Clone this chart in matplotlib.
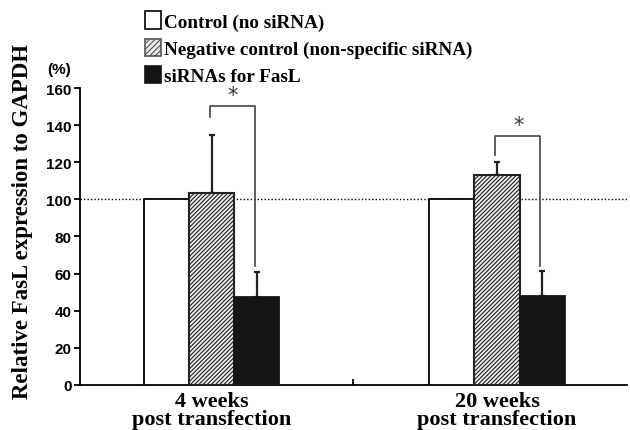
import matplotlib
matplotlib.use("Agg")
import matplotlib.pyplot as plt
from matplotlib.patches import Patch
import numpy as np

# data
groups = ["4 weeks\npost transfection", "20 weeks\npost transfection"]
series = ["Control (no siRNA)", "Negative control (non-specific siRNA)", "siRNAs for FasL"]
control = [100, 100]
negative = [103.5, 113]
sirna = [47.5, 48]
negative_err = [31.5, 7]
sirna_err = [13.5, 13.5]
yticks = [0, 20, 40, 60, 80, 100, 120, 140, 160]

serif = {"family": "Liberation Serif", "weight": "bold"}
plt.rcParams["hatch.color"] = "#959595"
plt.rcParams["hatch.linewidth"] = 0.8

fig = plt.figure(figsize=(6.3, 4.31), dpi=100)
ax = fig.add_axes([0.127, 0.105, 0.868, 0.688])

centers = np.array([0.481, 1.525])
w = 0.165

ax.bar(centers - w, control, w, facecolor="white", edgecolor="black", linewidth=1.3, zorder=3)
ax.bar(centers, negative, w, facecolor="#ececec", edgecolor="#222222", hatch="////////",
       linewidth=1.5, zorder=3)
ax.bar(centers + w, sirna, w, facecolor="#151515", edgecolor="#151515", linewidth=1.3, zorder=3)

# upward-only error bars
ax.errorbar(centers, negative, yerr=[np.zeros(2), negative_err], fmt="none",
            ecolor="#222222", elinewidth=1.6, capsize=2.5, capthick=1.6, zorder=2)
ax.errorbar(centers + w, sirna, yerr=[np.zeros(2), sirna_err], fmt="none",
            ecolor="#222222", elinewidth=1.6, capsize=2.5, capthick=1.6, zorder=2)

# significance brackets
brackets = [(150.5, 144.5, 64.3), (134, 124, 64.3)]
for c, (top, left, right) in zip(centers, brackets):
    ax.plot([c - 0.007, c - 0.007, c + w - 0.007, c + w - 0.007], [left, top, top, right],
            color="#444444", lw=1.2, zorder=2)
    ax.text(c + w / 2 - 0.005, top + 6, "*", ha="center", va="center",
            fontsize=15, color="#333333", family="DejaVu Sans")

ax.axhline(100, color="black", lw=1.0, ls=(0, (1, 1.5)), zorder=1)

ax.set_xlim(0, 2)
ax.set_ylim(0, 160)
ax.set_yticks(yticks)
ax.set_yticklabels([str(v) for v in yticks], family="Liberation Sans", weight="bold", fontsize=11)
ax.tick_params(axis="y", direction="out", length=4, width=1.3, pad=2)
ax.set_xticks([1])
ax.set_xticklabels([""])
ax.tick_params(axis="x", direction="in", length=4, width=1.3)
for c, g in zip(centers, groups):
    ax.text(c, -3.5, g, ha="center", va="top", fontdict=serif, fontsize=16, linespacing=0.85)

ax.spines["top"].set_visible(False)
ax.spines["right"].set_visible(False)
ax.spines["left"].set_linewidth(1.3)
ax.spines["bottom"].set_linewidth(1.3)

ax.set_ylabel("Relative FasL expression to GAPDH", fontdict=serif, fontsize=16.5)
ax.yaxis.set_label_coords(-0.086, 0.553)
ax.text(-0.038, 1.04, "(%)", transform=ax.transAxes, ha="center", va="bottom",
        family="Liberation Sans", weight="bold", fontsize=11)

handles = [
    Patch(facecolor="white", edgecolor="black", linewidth=1.2),
    Patch(facecolor="#ececec", edgecolor="#555555", hatch="//////", linewidth=1.2),
    Patch(facecolor="#151515", edgecolor="#151515", linewidth=1.2),
]
fig.legend(handles, series, loc="upper left", bbox_to_anchor=(0.21, 1.0), frameon=False,
           prop={"family": "Liberation Serif", "weight": "bold", "size": 13.8},
           handlelength=0.85, handleheight=1.0, handletextpad=0.15, labelspacing=0.42,
           borderaxespad=0.25)

fig.savefig("out.png", dpi=100)
